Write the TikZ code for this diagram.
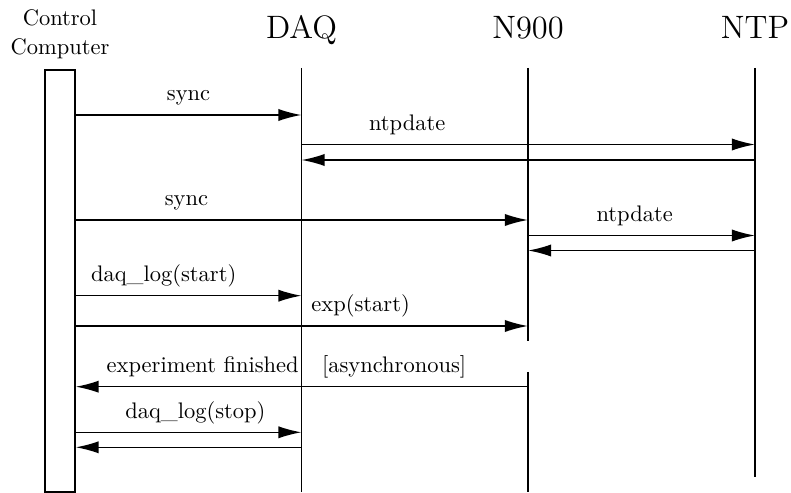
\documentclass[tikz,border=0pt]{standalone}
\usetikzlibrary{calc}
\usetikzlibrary{positioning}
\usetikzlibrary{arrows.meta}
\tikzstyle{actor} = [font=\Large, anchor=base, inner sep=0pt]
\tikzstyle{lifeline} = [line width=0.7pt]
\tikzstyle{msg} = [line width=0.7pt, -{Latex[length=3.6mm, width=1.9mm]}]
\tikzstyle{msglabel} = [anchor=base, yshift=6.3pt, inner sep=0pt]

\begin{document}
\begin{tikzpicture}[x=0.015625cm, y=-0.015625cm]
  \useasboundingbox (0,0) rectangle (791,493);

  % participants
  \node[align=center, inner sep=0pt] (cc) at (60,34) {Control\\[1pt]Computer};
  \node[actor] (daq) at (301.5,38.5) {DAQ};
  \node[actor] (n900) at (528,38.5) {N900};
  \node[actor] (ntp) at (755,38.5) {NTP};

  % lifelines
  \node[draw, lifeline, inner sep=0pt, anchor=north west,
        minimum width=0.469cm, minimum height=6.594cm] (ccbox) at (44,69) {};
  \coordinate (daqtop) at (301.5,68);
  \coordinate (daqend) at (301.5,492);
  \coordinate (n900top) at (528,68);
  \coordinate (n900halt) at (528,341);
  \coordinate (n900resume) at (528,372);
  \coordinate (n900end) at (528,492);
  \coordinate (ntptop) at (755,68);
  \coordinate (ntpend) at (755,477);
  \draw[lifeline] (daqtop) -- (daqend);
  \draw[lifeline] (n900top) -- (n900halt);
  \draw[lifeline] (n900resume) -- (n900end);
  \draw[lifeline] (ntptop) -- (ntpend);

  % message rows
  \coordinate (sync1) at (0,115);
  \coordinate (ntpa) at (0,144.5);
  \coordinate (ntpb) at (0,160);
  \coordinate (sync2) at (0,220);
  \coordinate (ntpc) at (0,235.5);
  \coordinate (ntpd) at (0,250.5);
  \coordinate (logstart) at (0,295.7);
  \coordinate (expstart) at (0,326);
  \coordinate (expdone) at (0,386.7);
  \coordinate (logstop) at (0,432.3);
  \coordinate (logstopr) at (0,447.3);

  \draw[msg] (ccbox.east |- sync1) -- node[msglabel] {sync} (daqtop |- sync1);
  \draw[msg] (daqtop |- ntpa) -- node[msglabel, pos=0.233] {ntpdate} (ntptop |- ntpa);
  \draw[msg] (ntptop |- ntpb) -- (daqtop |- ntpb);
  \draw[msg] (ccbox.east |- sync2) -- node[msglabel, pos=0.245] {sync} (n900top |- sync2);
  \draw[msg] (n900top |- ntpc) -- node[msglabel, pos=0.47] {ntpdate} (ntptop |- ntpc);
  \draw[msg] (ntptop |- ntpd) -- (n900top |- ntpd);
  \draw[msg] (ccbox.east |- logstart) -- node[msglabel, pos=0.39] {daq\_log(start)} (daqtop |- logstart);
  \draw[msg] (ccbox.east |- expstart) -- node[msglabel, pos=0.63] {exp(start)} (n900top |- expstart);
  \draw[msg] (n900top |- expdone) -- node[msglabel, pos=0.719] {experiment finished}
    node[msglabel, pos=0.296] {[asynchronous]} (ccbox.east |- expdone);
  \draw[msg] (ccbox.east |- logstop) -- node[msglabel, pos=0.53] {daq\_log(stop)} (daqtop |- logstop);
  \draw[msg] (daqtop |- logstopr) -- (ccbox.east |- logstopr);
\end{tikzpicture}
\end{document}
